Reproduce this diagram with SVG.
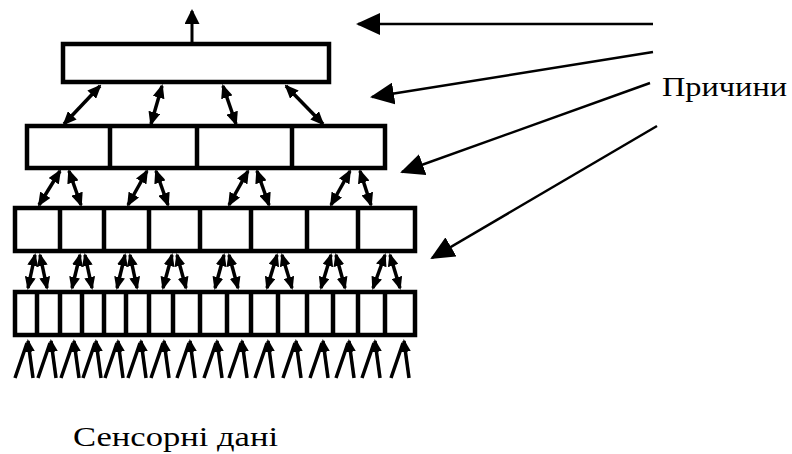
<svg xmlns="http://www.w3.org/2000/svg" width="792" height="454" viewBox="0 0 792 454">
<style>
.box{fill:#fff;stroke:#000;stroke-width:4.5}
.div{stroke:#000;stroke-width:4.5}
.c{stroke:#000;fill:none}
.t{font-family:"Liberation Serif","Times New Roman",serif;fill:#000}
</style>
<defs>
<marker id="big" markerUnits="userSpaceOnUse" markerWidth="24" markerHeight="22" refX="22" refY="11" orient="auto-start-reverse"><path d="M0,0 L24,11 L0,22 z" fill="#000"/></marker>
<marker id="up" markerUnits="userSpaceOnUse" markerWidth="15" markerHeight="15" refX="13" refY="7.5" orient="auto-start-reverse"><path d="M0,0 L15,7.5 L0,15 z" fill="#000"/></marker>
<marker id="med" markerUnits="userSpaceOnUse" markerWidth="14" markerHeight="12" refX="12" refY="6" orient="auto-start-reverse"><path d="M0,0 L14,6 L0,12 z" fill="#000"/></marker>
<marker id="sm" markerUnits="userSpaceOnUse" markerWidth="13" markerHeight="11" refX="11" refY="5.5" orient="auto-start-reverse"><path d="M0,0 L13,5.5 L0,11 z" fill="#000"/></marker>
</defs>

<g id="top-node"><rect class="box" x="63" y="44" width="266" height="38"/></g>

<g id="level2">
<rect class="box" x="27" y="126" width="358" height="42"/>
<line class="div" x1="110" y1="126" x2="110" y2="168"/>
<line class="div" x1="197" y1="126" x2="197" y2="168"/>
<line class="div" x1="292" y1="126" x2="292" y2="168"/>
</g>

<g id="level3">
<rect class="box" x="15" y="208" width="400" height="43"/>
<line class="div" x1="60" y1="208" x2="60" y2="251"/>
<line class="div" x1="104" y1="208" x2="104" y2="251"/>
<line class="div" x1="149" y1="208" x2="149" y2="251"/>
<line class="div" x1="200" y1="208" x2="200" y2="251"/>
<line class="div" x1="251" y1="208" x2="251" y2="251"/>
<line class="div" x1="307" y1="208" x2="307" y2="251"/>
<line class="div" x1="358" y1="208" x2="358" y2="251"/>
</g>

<g id="level4">
<rect class="box" x="15" y="292" width="400" height="43"/>
<line class="div" x1="37" y1="292" x2="37" y2="335"/>
<line class="div" x1="60" y1="292" x2="60" y2="335"/>
<line class="div" x1="82" y1="292" x2="82" y2="335"/>
<line class="div" x1="104" y1="292" x2="104" y2="335"/>
<line class="div" x1="126" y1="292" x2="126" y2="335"/>
<line class="div" x1="149" y1="292" x2="149" y2="335"/>
<line class="div" x1="173" y1="292" x2="173" y2="335"/>
<line class="div" x1="200" y1="292" x2="200" y2="335"/>
<line class="div" x1="227" y1="292" x2="227" y2="335"/>
<line class="div" x1="251" y1="292" x2="251" y2="335"/>
<line class="div" x1="278" y1="292" x2="278" y2="335"/>
<line class="div" x1="307" y1="292" x2="307" y2="335"/>
<line class="div" x1="333" y1="292" x2="333" y2="335"/>
<line class="div" x1="358" y1="292" x2="358" y2="335"/>
<line class="div" x1="385" y1="292" x2="385" y2="335"/>
</g>

<g id="connectors">
<line class="c" stroke-width="3" x1="192" y1="42" x2="192" y2="11" marker-end="url(#up)"/>
<g stroke-width="2.5">
<line class="c" x1="653" y1="24" x2="358" y2="24" marker-end="url(#big)"/>
<line class="c" x1="653" y1="52" x2="372" y2="97" marker-end="url(#big)"/>
<line class="c" x1="650" y1="83" x2="402" y2="172" marker-end="url(#big)"/>
<line class="c" x1="657" y1="126" x2="432" y2="258" marker-end="url(#big)"/>
</g>
<g stroke-width="3.5">
<line class="c" x1="100" y1="86" x2="64" y2="124" marker-start="url(#med)" marker-end="url(#med)"/>
<line class="c" x1="162" y1="86" x2="151" y2="124" marker-start="url(#med)" marker-end="url(#med)"/>
<line class="c" x1="223" y1="86" x2="236" y2="124" marker-start="url(#med)" marker-end="url(#med)"/>
<line class="c" x1="286" y1="86" x2="323" y2="124" marker-start="url(#med)" marker-end="url(#med)"/>
</g>
<g stroke-width="3.5">
<line class="c" x1="60" y1="171" x2="39" y2="205" marker-start="url(#med)" marker-end="url(#med)"/>
<line class="c" x1="69" y1="171" x2="81" y2="205" marker-start="url(#med)" marker-end="url(#med)"/>
<line class="c" x1="147" y1="171" x2="128" y2="205" marker-start="url(#med)" marker-end="url(#med)"/>
<line class="c" x1="156" y1="171" x2="168" y2="205" marker-start="url(#med)" marker-end="url(#med)"/>
<line class="c" x1="248" y1="171" x2="229" y2="205" marker-start="url(#med)" marker-end="url(#med)"/>
<line class="c" x1="257" y1="171" x2="269" y2="205" marker-start="url(#med)" marker-end="url(#med)"/>
<line class="c" x1="350" y1="171" x2="331" y2="205" marker-start="url(#med)" marker-end="url(#med)"/>
<line class="c" x1="360" y1="171" x2="371" y2="205" marker-start="url(#med)" marker-end="url(#med)"/>
</g>
<g stroke-width="3.5">
<line class="c" x1="35" y1="255" x2="28" y2="288" marker-start="url(#sm)" marker-end="url(#sm)"/>
<line class="c" x1="40" y1="255" x2="47" y2="288" marker-start="url(#sm)" marker-end="url(#sm)"/>
<line class="c" x1="80" y1="255" x2="72" y2="288" marker-start="url(#sm)" marker-end="url(#sm)"/>
<line class="c" x1="85" y1="255" x2="92" y2="288" marker-start="url(#sm)" marker-end="url(#sm)"/>
<line class="c" x1="125" y1="255" x2="117" y2="288" marker-start="url(#sm)" marker-end="url(#sm)"/>
<line class="c" x1="130" y1="255" x2="137" y2="288" marker-start="url(#sm)" marker-end="url(#sm)"/>
<line class="c" x1="172" y1="255" x2="163" y2="288" marker-start="url(#sm)" marker-end="url(#sm)"/>
<line class="c" x1="177" y1="255" x2="186" y2="288" marker-start="url(#sm)" marker-end="url(#sm)"/>
<line class="c" x1="224" y1="255" x2="215" y2="288" marker-start="url(#sm)" marker-end="url(#sm)"/>
<line class="c" x1="229" y1="255" x2="238" y2="288" marker-start="url(#sm)" marker-end="url(#sm)"/>
<line class="c" x1="277" y1="255" x2="267" y2="288" marker-start="url(#sm)" marker-end="url(#sm)"/>
<line class="c" x1="282" y1="255" x2="292" y2="288" marker-start="url(#sm)" marker-end="url(#sm)"/>
<line class="c" x1="331" y1="255" x2="321" y2="288" marker-start="url(#sm)" marker-end="url(#sm)"/>
<line class="c" x1="336" y1="255" x2="345" y2="288" marker-start="url(#sm)" marker-end="url(#sm)"/>
<line class="c" x1="385" y1="255" x2="373" y2="288" marker-start="url(#sm)" marker-end="url(#sm)"/>
<line class="c" x1="390" y1="255" x2="400" y2="288" marker-start="url(#sm)" marker-end="url(#sm)"/>
</g>
<g stroke-width="3.5">
<path class="c" d="M15,378 L27,343 M38,378 L50,343 M61,378 L73,343 M83,378 L95,343 M105,378 L117,343 M128,378 L140,343 M151,378 L163,343 M177,378 L189,343 M204,378 L216,343 M229,378 L241,343 M255,378 L267,343 M283,378 L295,343 M310,378 L322,343 M336,378 L348,343 M362,378 L374,343 M391,378 L403,343"/>
<line class="c" x1="33" y1="378" x2="28" y2="341" marker-end="url(#sm)"/>
<line class="c" x1="56" y1="378" x2="51" y2="341" marker-end="url(#sm)"/>
<line class="c" x1="79" y1="378" x2="74" y2="341" marker-end="url(#sm)"/>
<line class="c" x1="101" y1="378" x2="96" y2="341" marker-end="url(#sm)"/>
<line class="c" x1="123" y1="378" x2="118" y2="341" marker-end="url(#sm)"/>
<line class="c" x1="146" y1="378" x2="141" y2="341" marker-end="url(#sm)"/>
<line class="c" x1="169" y1="378" x2="164" y2="341" marker-end="url(#sm)"/>
<line class="c" x1="195" y1="378" x2="190" y2="341" marker-end="url(#sm)"/>
<line class="c" x1="222" y1="378" x2="217" y2="341" marker-end="url(#sm)"/>
<line class="c" x1="247" y1="378" x2="242" y2="341" marker-end="url(#sm)"/>
<line class="c" x1="273" y1="378" x2="268" y2="341" marker-end="url(#sm)"/>
<line class="c" x1="301" y1="378" x2="296" y2="341" marker-end="url(#sm)"/>
<line class="c" x1="328" y1="378" x2="323" y2="341" marker-end="url(#sm)"/>
<line class="c" x1="354" y1="378" x2="349" y2="341" marker-end="url(#sm)"/>
<line class="c" x1="380" y1="378" x2="375" y2="341" marker-end="url(#sm)"/>
<line class="c" x1="409" y1="378" x2="404" y2="341" marker-end="url(#sm)"/>
</g>
</g>

<g id="labels">
<text class="t" x="662" y="96" font-size="27" textLength="125" lengthAdjust="spacingAndGlyphs">Причини</text>
<text class="t" x="73" y="446" font-size="27" textLength="205" lengthAdjust="spacingAndGlyphs">Сенсорні дані</text>
</g>
</svg>
